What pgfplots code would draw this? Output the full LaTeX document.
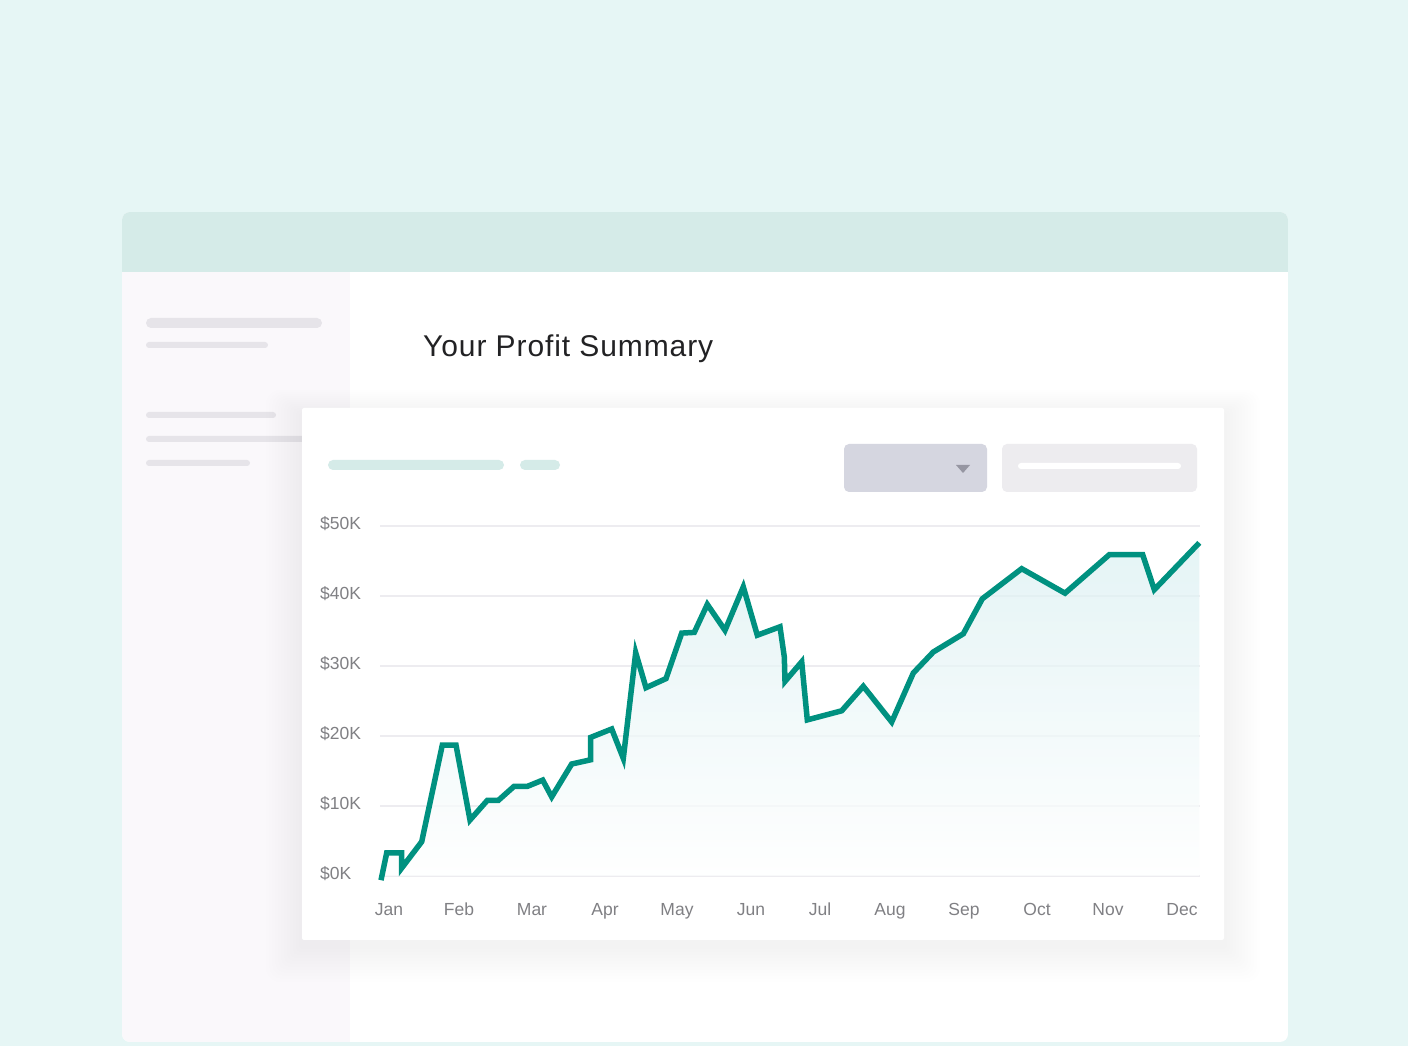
\documentclass[border=0pt]{standalone}
\usepackage{pgfplots}
\pgfplotsset{compat=1.18}
\usepackage{fontspec}
\setmainfont{Liberation Sans}
\newfontfamily\titlefont[LetterSpace=3]{Liberation Sans}
\definecolor{bgc}{RGB}{230,246,245}
\definecolor{headc}{RGB}{213,235,232}
\definecolor{sidec}{RGB}{250,248,251}
\definecolor{pillc}{RGB}{230,228,233}
\definecolor{tealpill}{RGB}{213,235,232}
\definecolor{dropc}{RGB}{213,214,224}
\definecolor{inputc}{RGB}{237,236,239}
\definecolor{triac}{RGB}{150,150,162}
\definecolor{titlec}{RGB}{34,34,36}
\definecolor{tickc}{RGB}{128,128,132}
\definecolor{gridc}{RGB}{237,236,240}
\definecolor{linec}{RGB}{0,145,128}
\definecolor{fillc}{RGB}{218,240,242}
\definecolor{shadc}{RGB}{70,60,100}
\definecolor{wshadc}{RGB}{110,150,150}
\begin{document}
\begin{tikzpicture}
\clip (0,0) rectangle (1408pt,1046pt);
\fill[bgc] (0,0) rectangle (1408pt,1046pt);
\begin{scope}[x=1pt,y=-1pt,yshift=1046pt]
  % window shadow
  \foreach \i in {1,...,12}{
    \fill[wshadc, opacity=0.0018, rounded corners={8+\i}] ({122-3*\i},{212-4*\i+10}) rectangle ({1288+3*\i},{1042+3*\i});
  }
  % window
  \begin{scope}
    \clip[rounded corners=8] (122,212) rectangle (1288,1042);
    \fill[white] (122,212) rectangle (1288,1042);
    \fill[headc] (122,212) rectangle (1288,272);
    \fill[sidec] (122,272) rectangle (350,1042);
  \end{scope}
  % sidebar pills
  \fill[pillc, rounded corners=5] (146,318) rectangle (322,328);
  \fill[pillc, rounded corners=3] (146,342) rectangle (268,348);
  \fill[pillc, rounded corners=3] (146,412) rectangle (276,418);
  \fill[pillc, rounded corners=3] (146,436) rectangle (330,442);
  \fill[pillc, rounded corners=3] (146,460) rectangle (250,466);
  % title
  \node[anchor=base west, inner sep=0pt, text=titlec, font=\titlefont\fontsize{30}{36}\selectfont] at (423,357) {Your Profit Summary};
  % card shadow
  \foreach \i in {1,...,12}{
    \fill[shadc, opacity=0.005, rounded corners={2+\i}] ({302-3*\i},{408-2*\i+6}) rectangle ({1224+3*\i},{940+3*\i+6});
  }
  % card
  \fill[white, rounded corners=2] (302,408) rectangle (1224,940);
  \fill[tealpill, rounded corners=5] (328,460) rectangle (504,470);
  \fill[tealpill, rounded corners=5] (520,460) rectangle (560,470);
  \fill[dropc, rounded corners=5] (844,444) rectangle (987,492);
  \fill[triac] (956,465) -- (970,465) -- (963,473) -- cycle;
  \fill[inputc, rounded corners=5] (1002,444) rectangle (1197,492);
  \fill[white, rounded corners=3] (1018,463) rectangle (1181,469);
\end{scope}
\begin{axis}[
  at={(380pt,170pt)}, anchor=south west,
  scale only axis, width=820pt, height=350pt,
  xmin=380, xmax=1200, ymin=0, ymax=50,
  clip=false,
  axis line style={draw=none},
  major tick style={draw=none},
  ymajorgrids, grid style={gridc, line width=2pt},
  xtick={389,459,532,605,677,751,820,890,964,1037,1108,1182},
  xticklabels={Jan,Feb,Mar,Apr,May,Jun,Jul,Aug,Sep,Oct,Nov,Dec},
  ytick={0,10,20,30,40,50},
  yticklabels={\$0K,\$10K,\$20K,\$30K,\$40K,\$50K},
  tick label style={font=\fontsize{17.5}{20}\selectfont, text=tickc},
  yticklabel style={anchor=west, inner sep=0pt, xshift=-60pt, yshift=2pt},
  xticklabel style={anchor=base, inner sep=0pt, yshift=-40pt},
]
\pgfplotstableread{
x y
381 -0.6
386.7 3.3
401.5 3.3
401.5 1.1
421.7 4.9
442.3 18.7
456 18.7
470 8.0
487.3 10.8
498.3 10.8
514 12.8
527.3 12.8
542.7 13.7
551.7 11.3
571.7 16.0
590.7 16.6
590.7 19.8
611.7 21.0
623.3 16.8
635.7 31.9
646 26.9
666 28.2
681.7 34.7
694.3 34.8
707.3 38.8
725 35.1
743.3 41.3
757.3 34.4
780 35.6
784.3 31.3
785 27.8
801.7 30.6
807.3 22.3
841.7 23.6
863.3 27.1
891.7 22.0
913.3 29.0
933.3 32.0
963.3 34.6
982.3 39.6
1021.7 43.9
1065 40.4
1109.3 45.9
1142.7 45.9
1154.3 40.9
1199.3 47.6
}\profit
\addplot[draw=none, top color=fillc, bottom color=white, fill opacity=0.7] table[x=x,y=y] {\profit} \closedcycle;
\addplot[linec, line width=5.5pt, line join=miter, mark=none] table[x=x,y=y] {\profit};
\end{axis}
\end{tikzpicture}
\end{document}
